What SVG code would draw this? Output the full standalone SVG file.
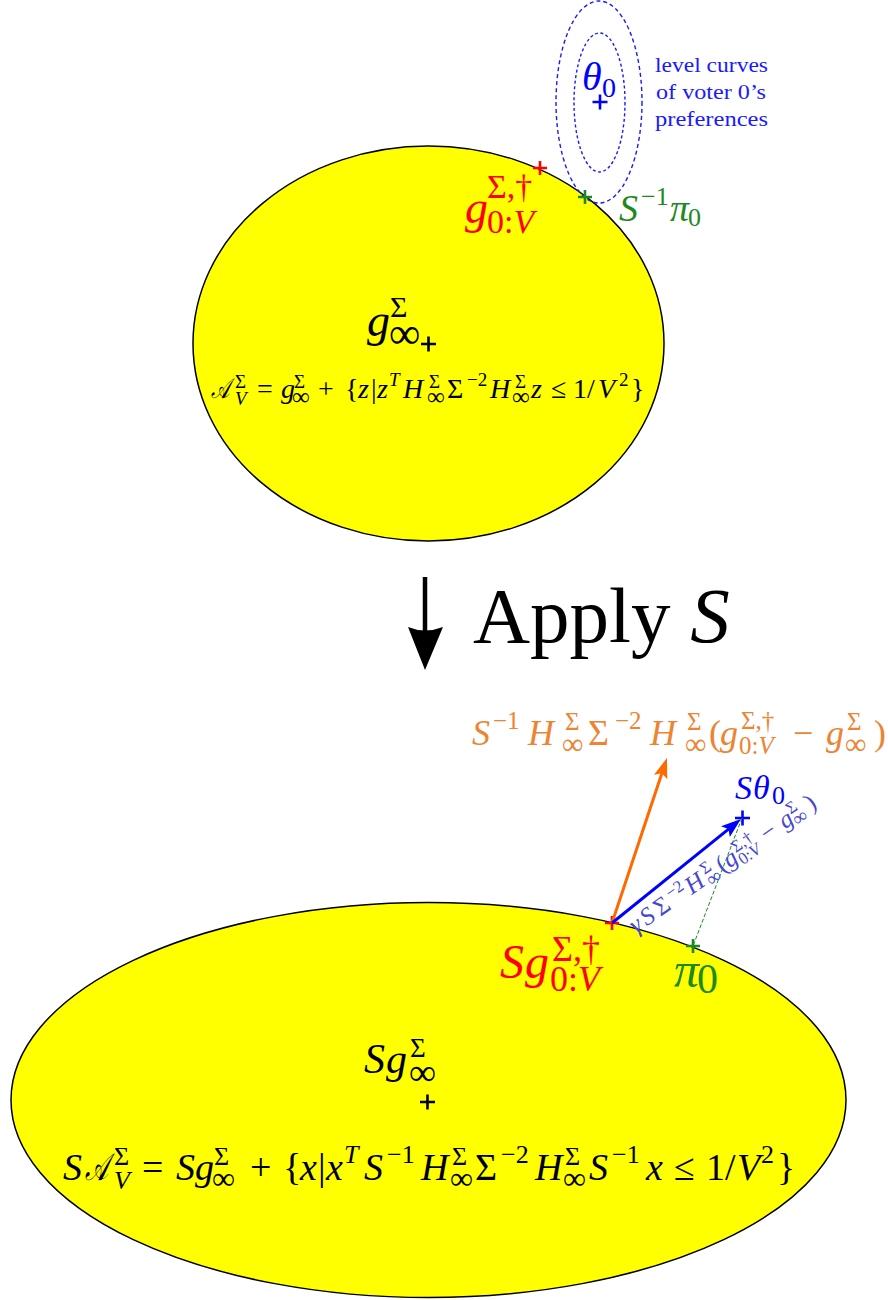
<svg xmlns="http://www.w3.org/2000/svg" width="888" height="1300" viewBox="0 0 888 1300">
<style>
text{font-family:"Liberation Serif","DejaVu Serif",serif}
.i{font-style:italic}
.blk{fill:#000}
.red{fill:#ff0000}
.grn{fill:#1e8a1e}
.blu{fill:#0000ff}
.org{fill:#ec8432}
.rot{fill:#4646d2}
.region{fill:#ffff00;stroke:#000;stroke-width:1.5}
.lc{fill:none;stroke:#1a1aff;stroke-width:1.4}
.mk{fill:none;stroke-width:2.6}
</style>
<defs>
<marker id="ahBlue" markerUnits="userSpaceOnUse" markerWidth="22" markerHeight="16" refX="10" refY="8" orient="auto"><path d="M0,1 L20,8 L0,15 L4,8 Z" fill="#0000ff"/></marker>
<marker id="ahOrange" markerUnits="userSpaceOnUse" markerWidth="22" markerHeight="16" refX="10" refY="8" orient="auto"><path d="M0,1 L20,8 L0,15 L4,8 Z" fill="#ff6a00"/></marker>
</defs>
<rect width="888" height="1300" fill="#fff"/>

<g id="top-region">
<ellipse class="region" cx="428.5" cy="343.5" rx="235.5" ry="197.5"/>
<path class="mk" stroke="#000" d="M421,344 h15 M428.5,336.5 v15"/>
<text class="blk"><tspan class="i" x="367" y="336" font-size="46">g</tspan><tspan x="390" y="317" font-size="30">Σ</tspan><tspan x="389" y="348" font-size="44">∞</tspan></text>
<text class="blk i" font-size="28" transform="translate(211,398) scale(0.7,1)">𝒜</text>
<text class="blk" font-size="28"><tspan x="235" y="388" font-size="19">Σ</tspan><tspan class="i" x="235" y="405" font-size="19">V</tspan><tspan x="257" y="398">=</tspan><tspan class="i" x="281" y="398">g</tspan><tspan x="294" y="388" font-size="19">Σ</tspan><tspan x="292" y="405" font-size="25">∞</tspan><tspan x="318" y="398">+</tspan><tspan x="345" y="398">{</tspan><tspan class="i" x="358" y="398">z</tspan><tspan x="371" y="398">|</tspan><tspan class="i" x="377" y="398">z</tspan><tspan class="i" x="389" y="386" font-size="19">T</tspan><tspan class="i" x="403" y="398">H</tspan><tspan x="429" y="388" font-size="19">Σ</tspan><tspan x="427" y="405" font-size="25">∞</tspan><tspan x="447" y="398">Σ</tspan><tspan x="467" y="386" font-size="19">−2</tspan><tspan class="i" x="490" y="398">H</tspan><tspan x="515" y="388" font-size="19">Σ</tspan><tspan x="512" y="405" font-size="25">∞</tspan><tspan class="i" x="531" y="398">z</tspan><tspan x="551" y="398">≤</tspan><tspan x="573" y="398">1</tspan><tspan x="587" y="398">/</tspan><tspan class="i" x="598" y="398">V</tspan><tspan x="619" y="386" font-size="19">2</tspan><tspan x="631" y="398">}</tspan></text>
</g>

<g id="level-curves">
<ellipse class="lc" cx="599" cy="102" rx="43" ry="101" stroke-dasharray="4 3"/>
<ellipse class="lc" cx="599.5" cy="102.5" rx="25.5" ry="69.5" stroke-dasharray="3 2.5"/>
<text fill="#1a1aff" font-size="21" x="655" y="72" textLength="113" lengthAdjust="spacingAndGlyphs">level curves</text>
<text fill="#1a1aff" font-size="21" x="656" y="99" textLength="110" lengthAdjust="spacingAndGlyphs">of voter 0’s</text>
<text fill="#1a1aff" font-size="21" x="655" y="126" textLength="113" lengthAdjust="spacingAndGlyphs">preferences</text>
</g>

<g id="theta0">
<text class="blu"><tspan class="i" x="582" y="90" font-size="40">θ</tspan><tspan x="602" y="97" font-size="28">0</tspan></text>
<path class="mk" stroke="#0000ff" d="M592.5,102 h15 M600,94.5 v15"/>
</g>

<g id="g0V-top">
<path class="mk" stroke="#ff0000" d="M533,168 h14 M540,161 v14"/>
<text class="red"><tspan class="i" x="465" y="223" font-size="46">g</tspan><tspan x="487" y="198" font-size="34">Σ,†</tspan><tspan x="487" y="233" font-size="34">0:</tspan><tspan class="i" font-size="34">V</tspan></text>
</g>

<g id="pi-top">
<path class="mk" stroke="#1e8a1e" d="M578,197 h14 M585,190 v14"/>
<text class="grn"><tspan class="i" x="619" y="221" font-size="38">S</tspan><tspan x="641" y="205" font-size="26">−1</tspan><tspan class="i" x="670" y="221" font-size="38">π</tspan><tspan x="688" y="226" font-size="26">0</tspan></text>
</g>

<g id="apply">
<line x1="425" y1="577" x2="425" y2="634" stroke="#000" stroke-width="4.5"/>
<path d="M425,670 L408,627 Q425,634 443,627 Z" fill="#000"/>
<text class="blk" font-size="79"><tspan x="473" y="642">Apply </tspan><tspan class="i">S</tspan></text>
</g>

<g id="bottom-region">
<ellipse class="region" cx="428.5" cy="1100" rx="417.5" ry="197.5"/>
<path class="mk" stroke="#000" d="M420,1102 h15 M427.5,1094.5 v15"/>
<text class="blk"><tspan class="i" x="364" y="1073" font-size="42">S</tspan><tspan class="i" x="386" y="1073" font-size="42">g</tspan><tspan x="410" y="1057" font-size="27">Σ</tspan><tspan x="409" y="1085" font-size="38">∞</tspan></text>
<text class="blk i" font-size="38" transform="translate(85,1180) scale(0.65,1)">𝒜</text>
<text class="blk" font-size="38"><tspan class="i" x="63" y="1180">S</tspan><tspan x="114" y="1165" font-size="26">Σ</tspan><tspan class="i" x="114" y="1189" font-size="26">V</tspan><tspan x="142" y="1180">=</tspan><tspan class="i" x="176" y="1180">S</tspan><tspan class="i" x="195" y="1180">g</tspan><tspan x="214" y="1165" font-size="26">Σ</tspan><tspan x="212" y="1189" font-size="32">∞</tspan><tspan x="250" y="1180">+</tspan><tspan x="283" y="1180">{</tspan><tspan class="i" x="300" y="1180">x</tspan><tspan x="318" y="1180">|</tspan><tspan class="i" x="326" y="1180">x</tspan><tspan class="i" x="344" y="1163" font-size="26">T</tspan><tspan class="i" x="364" y="1180">S</tspan><tspan x="387" y="1163" font-size="26">−1</tspan><tspan class="i" x="421" y="1180">H</tspan><tspan x="452" y="1165" font-size="26">Σ</tspan><tspan x="450" y="1189" font-size="32">∞</tspan><tspan x="475" y="1180">Σ</tspan><tspan x="501" y="1163" font-size="26">−2</tspan><tspan class="i" x="535" y="1180">H</tspan><tspan x="565" y="1165" font-size="26">Σ</tspan><tspan x="563" y="1189" font-size="32">∞</tspan><tspan class="i" x="589" y="1180">S</tspan><tspan x="612" y="1163" font-size="26">−1</tspan><tspan class="i" x="646" y="1180">x</tspan><tspan x="674" y="1180">≤</tspan><tspan x="706" y="1180">1</tspan><tspan x="725" y="1180">/</tspan><tspan class="i" x="737" y="1180">V</tspan><tspan x="761" y="1163" font-size="26">2</tspan><tspan x="777" y="1180">}</tspan></text>
</g>

<g id="Sg0V">
<path class="mk" stroke="#ff0000" d="M605,923 h14 M612,916 v14"/>
<text class="red"><tspan class="i" x="500" y="978" font-size="48">S</tspan><tspan class="i" x="525" y="978" font-size="48">g</tspan><tspan x="552" y="961" font-size="36">Σ,†</tspan><tspan x="550" y="991" font-size="36">0:</tspan><tspan class="i" font-size="36">V</tspan></text>
</g>

<g id="pi0">
<path class="mk" stroke="#1e8a1e" d="M686,946 h14 M693,939 v14"/>
<text class="grn"><tspan class="i" x="674" y="987" font-size="50">π</tspan><tspan x="697" y="993" font-size="42">0</tspan></text>
</g>

<g id="Stheta0">
<path class="mk" stroke="#0000ff" d="M735,818 h15 M742.5,810.5 v15"/>
<text class="blu"><tspan class="i" x="735" y="799" font-size="34">S</tspan><tspan class="i" x="753" y="799" font-size="34">θ</tspan><tspan x="772" y="804" font-size="26">0</tspan></text>
</g>

<g id="orange-label">
<text class="org" font-size="36"><tspan class="i" x="472" y="745">S</tspan><tspan x="493" y="729" font-size="25">−1</tspan><tspan class="i" x="528" y="745">H</tspan><tspan x="565" y="730" font-size="25">Σ</tspan><tspan x="562" y="754" font-size="30">∞</tspan><tspan x="588" y="745">Σ</tspan><tspan x="615" y="729" font-size="25">−2</tspan><tspan class="i" x="650" y="745">H</tspan><tspan x="687" y="730" font-size="25">Σ</tspan><tspan x="685" y="754" font-size="30">∞</tspan><tspan x="709" y="745">(</tspan><tspan class="i" x="720" y="745">g</tspan><tspan x="741" y="729" font-size="25">Σ,†</tspan><tspan x="739" y="754" font-size="25">0:</tspan><tspan class="i" font-size="25">V</tspan><tspan x="793" y="745">−</tspan><tspan class="i" x="826" y="745">g</tspan><tspan x="847" y="730" font-size="25">Σ</tspan><tspan x="845" y="754" font-size="30">∞</tspan><tspan x="874" y="745">)</tspan></text>
</g>

<g id="connectors">
<line x1="612" y1="923" x2="663.8" y2="767.5" stroke="#ff6a00" stroke-width="3" marker-end="url(#ahOrange)"/>
<line x1="612" y1="923" x2="733.2" y2="825.3" stroke="#0000ff" stroke-width="3" marker-end="url(#ahBlue)"/>
<line x1="742" y1="818" x2="693" y2="946" stroke="#1e8a1e" stroke-width="1" stroke-dasharray="4 2"/>
</g>

<g id="gamma-label" transform="translate(636,934) rotate(-35)">
<text class="rot" font-size="25"><tspan class="i" x="0" y="0">γ</tspan><tspan class="i" x="13" y="0">S</tspan><tspan x="30" y="0">Σ</tspan><tspan x="48" y="-9" font-size="17">−2</tspan><tspan class="i" x="68" y="0">H</tspan><tspan x="90" y="-9" font-size="17">Σ</tspan><tspan x="89" y="5" font-size="20">∞</tspan><tspan x="106" y="0">(</tspan><tspan class="i" x="114" y="0">g</tspan><tspan x="128" y="-9" font-size="17">Σ,†</tspan><tspan x="127" y="5" font-size="17">0:</tspan><tspan class="i" font-size="17">V</tspan><tspan x="160" y="0">−</tspan><tspan class="i" x="182" y="0">g</tspan><tspan x="195" y="-9" font-size="17">Σ</tspan><tspan x="194" y="5" font-size="20">∞</tspan><tspan x="214" y="0">)</tspan></text>
</g>
</svg>
